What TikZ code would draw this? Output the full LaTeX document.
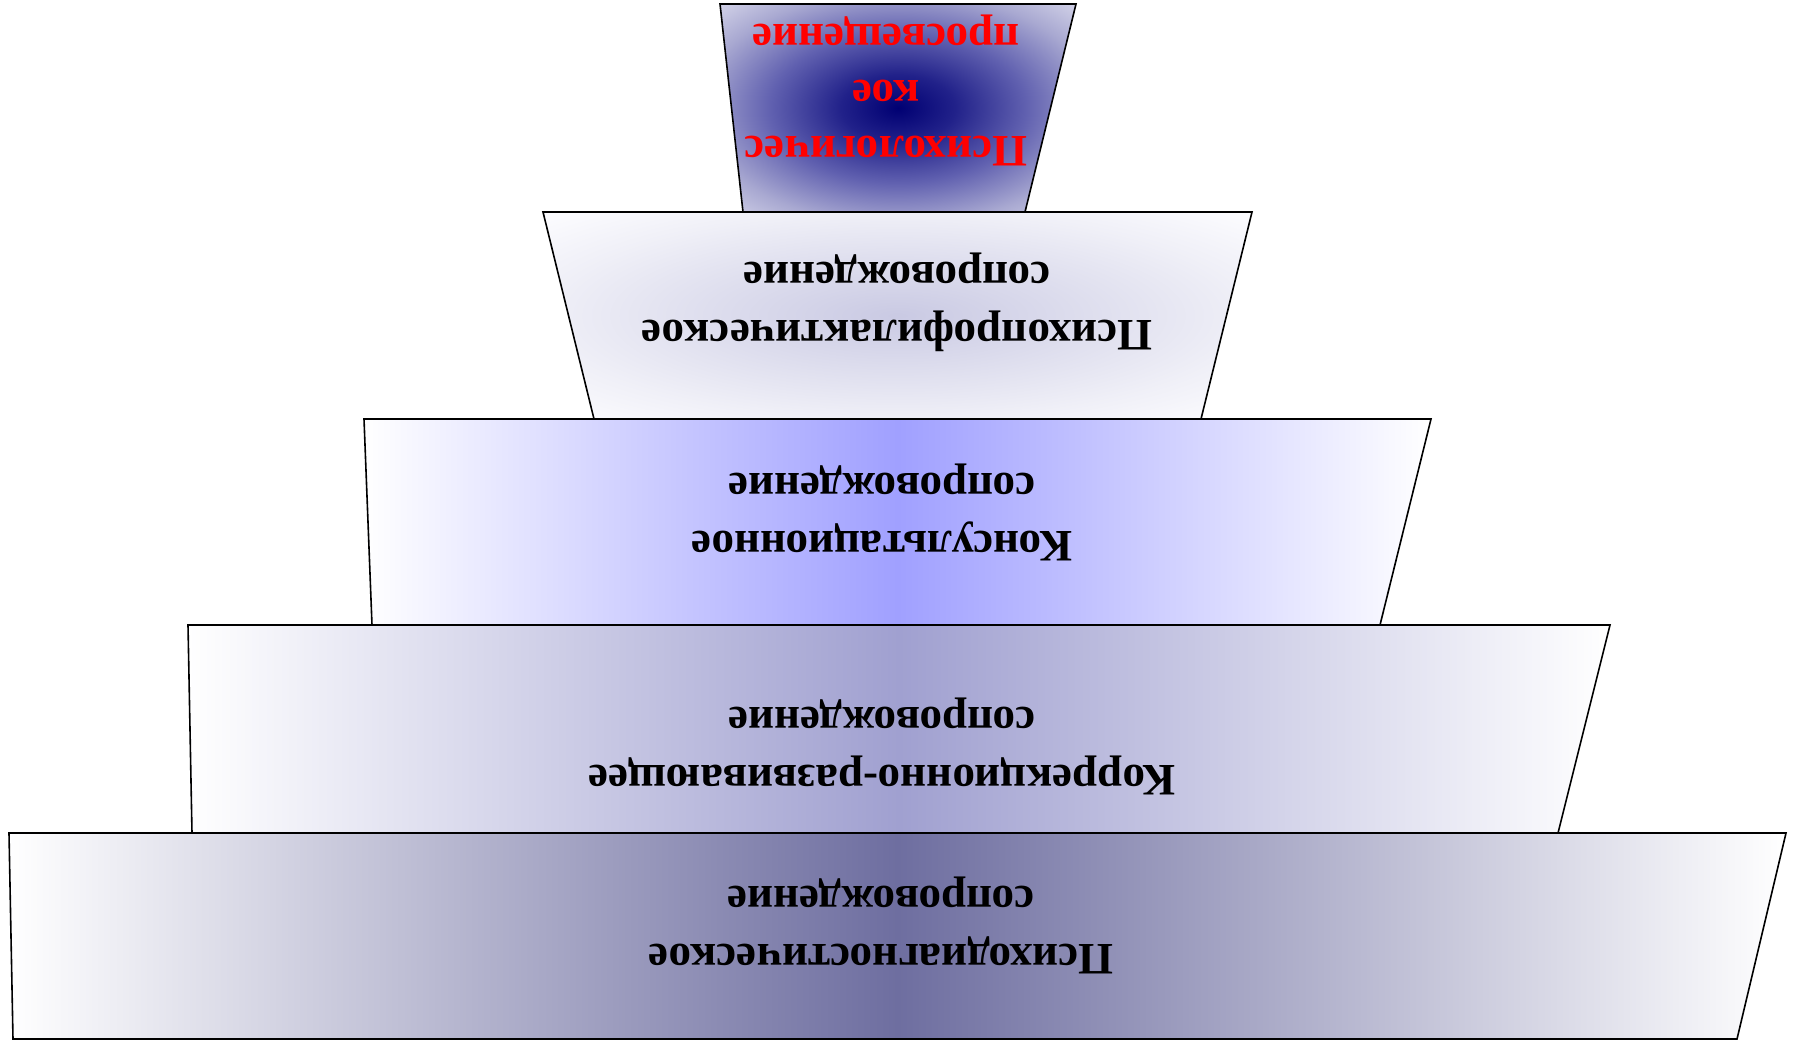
\documentclass[tikz,border=0pt]{standalone}
\usepackage{fontspec}
\setmainfont{Liberation Serif}
\pgfdeclareradialshading{topglow}{\pgfpoint{0bp}{0bp}}{rgb(0bp)=(0.0,0.0,0.45); rgb(8bp)=(0.13,0.13,0.54); rgb(18bp)=(0.38,0.38,0.69); rgb(28bp)=(0.66,0.66,0.82); rgb(38bp)=(0.88,0.88,0.94); rgb(50bp)=(0.97,0.97,0.99)}
\pgfdeclareradialshading{softglow}{\pgfpoint{0bp}{0bp}}{rgb(0bp)=(0.79,0.79,0.89); rgb(25bp)=(0.94,0.94,0.97); rgb(35bp)=(0.99,0.99,1); rgb(50bp)=(0.99,0.99,1)}
\definecolor{lvone}{RGB}{110,110,160}
\definecolor{lvtwo}{RGB}{160,160,208}
\definecolor{lvthree}{RGB}{160,160,255}
\tikzset{
  tier/.style={draw=black, line width=1.6pt, line join=miter},
  hband/.style={tier, left color=white, right color=white, middle color=#1},
  lbl/.style={rotate=180, align=center, font=\fontsize{45}{58}\selectfont\bfseries, inner sep=0pt},
}
\begin{document}
\begin{tikzpicture}[x=1pt,y=-1pt]
\useasboundingbox (0,0) rectangle (1795,1040);
% level 1 (bottom)
\path[hband=lvone] (9,833) -- (1786,833) -- (1737,1039) -- (13,1039) -- cycle;
% level 2
\path[hband=lvtwo] (188,625) -- (1610,625) -- (1558,833) -- (192,833) -- cycle;
% level 3
\path[hband=lvthree] (364,419) -- (1431,419) -- (1380,625) -- (372,625) -- cycle;
% level 4
\path[tier, shading=softglow] (543,212) -- (1252,212) -- (1201,419) -- (594,419) -- cycle;
% level 5 (top)
\path[tier, shading=topglow] (720,4) -- (1076,4) -- (1025,212) -- (743,212) -- cycle;

\node[lbl] (t1) at (881,925) {Психодиагностическое\\сопровождение};
\node[lbl] (t2) at (882,746) {Коррекционно-развивающее\\сопровождение};
\node[lbl] (t3) at (882,512) {Консультационное\\сопровождение};
\node[lbl] (t4) at (897,302) {Психопрофилактическое\\сопровождение};
\node[lbl, text=red, font=\fontsize{45}{56}\selectfont\bfseries] (t5) at (886,90) {Психологичес\\кое\\просвещение};
\end{tikzpicture}
\end{document}
